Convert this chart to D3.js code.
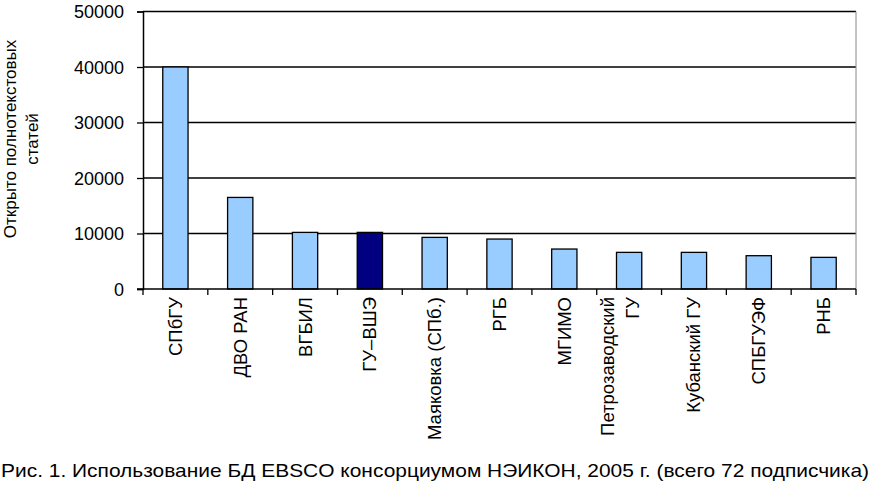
<!DOCTYPE html>
<html><head><meta charset="utf-8">
<script src="https://cdn.jsdelivr.net/npm/d3@7"></script>
<style>body{margin:0;background:#fff}svg{display:block}text{font-family:"Liberation Sans",Arial,sans-serif;fill:#000}</style>
</head><body><svg id="c" width="872" height="488"></svg>
<script>
const categories = ["СПбГУ","ДВО РАН","ВГБИЛ","ГУ–ВШЭ","Маяковка (СПб.)","РГБ","МГИМО","Петрозаводский|ГУ","Кубанский ГУ","СПБГУЭФ","РНБ"];
const values = [40000,16500,10200,10200,9300,9000,7200,6600,6600,6000,5700];
const highlighted = ["ГУ–ВШЭ"];
const yTicks = [0,10000,20000,30000,40000,50000];
const yTitle = ["Открыто полнотекстовых","статей"];
const caption = "Рис. 1. Использование БД EBSCO консорциумом НЭИКОН, 2005 г. (всего 72 подписчика)";

const svg = d3.select("#c");
const L=143, R=856, T=11.5, B=289;
const x = d3.scaleBand().domain(categories).range([L,R]).paddingInner(0.61).paddingOuter(0.305);
const xb = d3.scaleBand().domain(categories).range([L,R]);
const y = d3.scaleLinear().domain([0,50000]).range([B,T]);

// gridlines
svg.append("g").selectAll("line").data(yTicks.filter(d=>d>0)).join("line")
  .attr("x1",L).attr("x2",R).attr("y1",d=>y(d)).attr("y2",d=>y(d))
  .attr("stroke","#000").attr("stroke-width",1.3);
// right border
svg.append("line").attr("x1",R).attr("x2",R).attr("y1",T).attr("y2",B).attr("stroke","#888").attr("stroke-width",1);

// bars
svg.append("g").selectAll("rect").data(categories).join("rect")
  .attr("x",d=>x(d)).attr("width",x.bandwidth())
  .attr("y",(d,i)=>y(values[i])).attr("height",(d,i)=>B-y(values[i]))
  .attr("fill",d=>highlighted.includes(d)?"#000080":"#99CCFF")
  .attr("stroke","#000").attr("stroke-width",1.3);

// y axis
const ya = svg.append("g").attr("transform",`translate(${L},0)`)
  .call(d3.axisLeft(y).tickValues(yTicks).tickSize(6).tickPadding(13).tickFormat(d3.format("d")));
ya.attr("font-size",null).attr("font-family",null);
ya.select(".domain").attr("stroke","#000").attr("stroke-width",1.5);
ya.selectAll(".tick line").attr("stroke","#000").attr("stroke-width",1.3);
ya.selectAll("text").style("font-size","18px").attr("dy","0.36em");

// x axis
svg.append("line").attr("x1",L-6).attr("x2",R).attr("y1",B).attr("y2",B).attr("stroke","#000").attr("stroke-width",1.5);
svg.append("g").selectAll("line").data(categories.concat(["__end"])).join("line")
  .attr("x1",(d,i)=>L+i*xb.step()).attr("x2",(d,i)=>L+i*xb.step())
  .attr("y1",B).attr("y2",B+6).attr("stroke","#000").attr("stroke-width",1.3);

const xl = svg.append("g").selectAll("g").data(categories).join("g")
  .attr("transform",d=>`translate(${xb(d)+xb.bandwidth()/2},297) rotate(-90)`);
xl.each(function(d){
  const lines = d.split("|");
  const g = d3.select(this);
  lines.forEach((t,k)=>{
    g.append("text").attr("text-anchor","end").style("font-size","18.5px")
      .attr("x",0).attr("y",lines.length>1 ? (k===0?-22:3) : 0).attr("dy","0.35em").text(t);
  });
});

// y title
const yt = svg.append("g").attr("transform","translate(21,139) rotate(-90)");
yTitle.forEach((t,k)=>yt.append("text").attr("text-anchor","middle").style("font-size","17px")
  .attr("y",(k-0.5)*22).attr("dy","0.35em").text(t));

// caption
svg.append("text").attr("x",1).attr("y",477).style("font-size","19px")
  .style("font-family","'Liberation Sans Narrow','Arial Narrow','Liberation Sans',sans-serif")
  .attr("textLength",868).attr("lengthAdjust","spacingAndGlyphs").text(caption);
</script></body></html>
